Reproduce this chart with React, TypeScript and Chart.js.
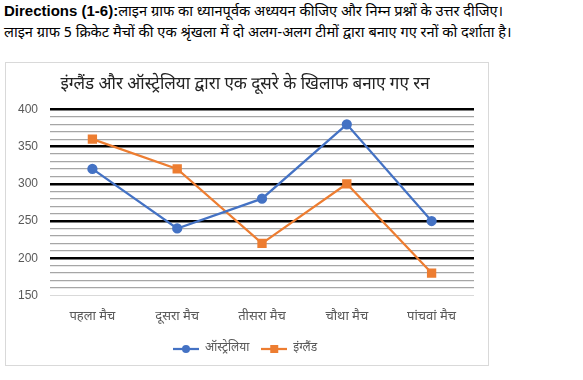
import React, { useEffect, useRef } from "react";
import { Chart, registerables } from "chart.js";

Chart.register(...registerables);

const categories = ["पहला मैच", "दूसरा मैच", "तीसरा मैच", "चौथा मैच", "पांचवां मैच"];
const australia = [320, 240, 280, 380, 250];
const england = [360, 320, 220, 300, 180];
const seriesNames = ["ऑस्ट्रेलिया", "इंग्लैंड"];
const chartTitle = "इंग्लैंड और ऑस्ट्रेलिया द्वारा एक दूसरे के खिलाफ बनाए गए रन";
const yMin = 150;
const yMax = 400;

const BLUE = "#4472C4";
const ORANGE = "#ED7D31";
const DEVA = "'Noto Sans Devanagari', 'Lohit Devanagari', Mangal, 'FreeSans', 'Noto Sans', sans-serif";

function legendIcon(color: string, square: boolean) {
  const c = document.createElement("canvas");
  c.width = 26;
  c.height = 10;
  const ctx = c.getContext("2d")!;
  ctx.strokeStyle = color;
  ctx.lineWidth = 2.25;
  ctx.beginPath();
  ctx.moveTo(0, 5);
  ctx.lineTo(26, 5);
  ctx.stroke();
  ctx.fillStyle = color;
  if (square) {
    ctx.fillRect(9, 1, 8, 8);
  } else {
    ctx.beginPath();
    ctx.arc(13, 5, 4, 0, Math.PI * 2);
    ctx.fill();
  }
  return c;
}

export default function App() {
  const ref = useRef<HTMLCanvasElement>(null);
  useEffect(() => {
    document.body.style.margin = "0";
    const icons = [legendIcon(BLUE, false), legendIcon(ORANGE, true)];
    const chart = new Chart(ref.current!, {
      type: "line",
      data: {
        labels: categories,
        datasets: [
          {
            label: seriesNames[0],
            data: australia,
            borderColor: BLUE,
            backgroundColor: BLUE,
            borderWidth: 2.25,
            pointStyle: "circle",
            pointRadius: 4,
            pointHoverRadius: 4,
            tension: 0,
          },
          {
            label: seriesNames[1],
            data: england,
            borderColor: ORANGE,
            backgroundColor: ORANGE,
            borderWidth: 2.25,
            pointStyle: "rect",
            pointRadius: 5,
            pointHoverRadius: 5,
            tension: 0,
          },
        ],
      },
      options: {
        responsive: false,
        animation: false,
        layout: { padding: { left: 10, right: 14, top: 0, bottom: 0 } },
        plugins: {
          tooltip: { enabled: false },
          title: {
            display: true,
            text: chartTitle,
            color: "#222",
            font: { family: DEVA, size: 17, weight: "normal" },
            padding: { top: 13, bottom: 13 },
          },
          legend: {
            position: "bottom",
            labels: {
              usePointStyle: true,
              pointStyleWidth: 26,
              color: "#595959",
              font: { family: DEVA, size: 12 },
              padding: 12,
              generateLabels: (ch: any) =>
                ch.data.datasets.map((d: any, i: number) => ({
                  text: d.label,
                  fillStyle: d.borderColor,
                  strokeStyle: d.borderColor,
                  pointStyle: icons[i],
                  datasetIndex: i,
                  hidden: false,
                  lineWidth: 0,
                  fontColor: "#595959",
                })),
            },
          },
        },
        scales: {
          x: {
            offset: true,
            grid: { display: false },
            border: { display: false },
            ticks: { color: "#595959", font: { family: DEVA, size: 13 }, padding: 6 },
          },
          y: {
            min: yMin,
            max: yMax,
            afterFit: (s: any) => {
              s.width = 34;
            },
            border: { display: false },
            grid: {
              drawTicks: false,
              color: (c: any) => {
                const v = c.tick.value;
                if (v === yMin) return "#d9d9d9";
                return v % 50 === 0 ? "#000000" : "#a6a6a6";
              },
              lineWidth: (c: any) => {
                const v = c.tick.value;
                if (v === yMin) return 1;
                return v % 50 === 0 ? 2.5 : 1.2;
              },
            },
            ticks: {
              stepSize: 10,
              autoSkip: false,
              padding: 12,
              color: "#595959",
              font: { family: "'Liberation Sans', Arial, sans-serif", size: 12 },
              callback: (v: any) => (Number(v) % 50 === 0 ? String(v) : ""),
            },
          },
        },
      },
    } as any);
    return () => chart.destroy();
  }, []);

  return (
    <div style={{ position: "relative", width: 583, height: 380, background: "#fff" }}>
      <div
        style={{
          position: "absolute",
          left: 4,
          top: 0,
          fontFamily: DEVA,
          fontSize: 14.6,
          lineHeight: "21px",
          color: "#000",
          whiteSpace: "nowrap",
        }}
      >
        <div>
          <span style={{ fontFamily: "'Liberation Sans', Arial, sans-serif", fontWeight: "bold", fontSize: 15 }}>
            Directions (1-6):
          </span>
          लाइन ग्राफ का ध्यानपूर्वक अध्ययन कीजिए और निम्न प्रश्नों के उत्तर दीजिए।
        </div>
        <div>लाइन ग्राफ 5 क्रिकेट मैचों की एक श्रृंखला में दो अलग-अलग टीमों द्वारा बनाए गए रनों को दर्शाता है।</div>
      </div>
      <div
        style={{
          position: "absolute",
          left: 5,
          top: 62,
          width: 482,
          height: 302,
          border: "1px solid #d9d9d9",
        }}
      >
        <canvas ref={ref} width={482} height={302} style={{ width: 482, height: 302, display: "block" }} />
      </div>
    </div>
  );
}
